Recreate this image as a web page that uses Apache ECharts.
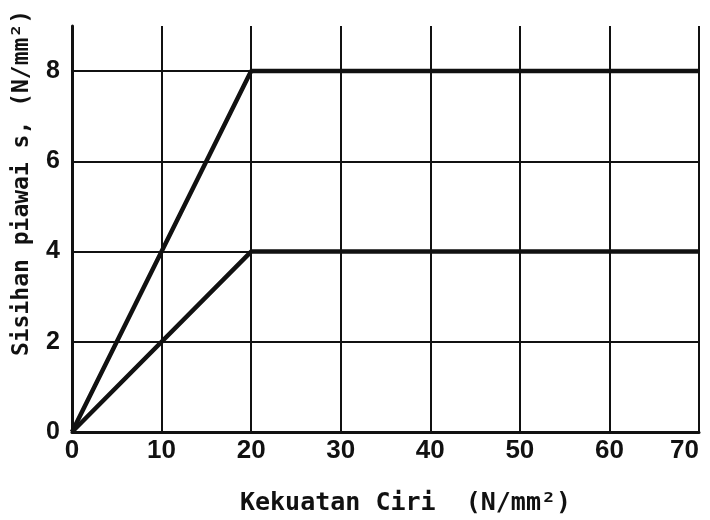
<!DOCTYPE html>
<html lang="ms">
<head>
    <meta charset="UTF-8">
    <title>Sisihan piawai</title>
    <script src="https://cdn.jsdelivr.net/npm/echarts@6/dist/echarts.min.js"></script>
</head>
<body style="margin:0;background:#fff">
<div id="main" style="width:710px;height:520px;"></div>
<script type="text/javascript">
    // data
    var upperLine = [[0, 0], [20, 8], [70, 8]];
    var lowerLine = [[0, 0], [20, 4], [70, 4]];
    var yGridLevels = [2, 4, 6, 8];
    var xTitle = 'Kekuatan Ciri  (N/mm\u00b2)';
    var yTitle = 'Sisihan piawai s, (N/mm\u00b2)';

    var myChart = echarts.init(document.getElementById('main'));
    var ink = '#111';
    var option = {
        animation: false,
        grid: {left: 72, right: 11, top: 26, bottom: 88, outerBoundsMode: 'none'},
        xAxis: {
            type: 'value',
            min: 0, max: 70, interval: 10,
            name: xTitle,
            nameLocation: 'middle',
            nameGap: 59,
            nameTextStyle: {
                color: ink, fontSize: 25, fontWeight: 'bold', fontFamily: 'DejaVu Sans Mono',
                padding: [0, 0, 0, 40]
            },
            axisLine: {lineStyle: {color: ink, width: 3}},
            axisTick: {show: false},
            axisLabel: {
                color: ink, fontSize: 26, fontWeight: 'bold', fontFamily: 'Liberation Sans', margin: 6,
                alignMaxLabel: 'right'
            },
            splitLine: {lineStyle: {color: ink, width: 2, type: 'solid'}}
        },
        yAxis: {
            type: 'value',
            min: 0, max: 9, interval: 1,
            name: yTitle,
            nameLocation: 'middle',
            nameGap: 38,
            nameTextStyle: {
                color: ink, fontSize: 23, fontWeight: 'bold', fontFamily: 'DejaVu Sans Mono',
                padding: [0, 0, 0, 92]
            },
            axisLine: {show: true, lineStyle: {color: ink, width: 3}},
            axisTick: {show: false},
            axisLabel: {
                color: ink, fontSize: 25, fontWeight: 'bold', fontFamily: 'Liberation Sans', margin: 12,
                formatter: function (v) { return yGridLevels.indexOf(v) >= 0 || v === 0 ? String(v) : ''; }
            },
            splitLine: {show: false}
        },
        series: [
            {
                type: 'line',
                data: upperLine,
                symbol: 'none',
                lineStyle: {color: ink, width: 4.5},
                markLine: {
                    silent: true,
                    symbol: 'none',
                    label: {show: false},
                    lineStyle: {color: ink, width: 2, type: 'solid'},
                    data: yGridLevels.map(function (v) { return {yAxis: v}; })
                }
            },
            {
                type: 'line',
                data: lowerLine,
                symbol: 'none',
                lineStyle: {color: ink, width: 4.5}
            }
        ]
    };
    myChart.setOption(option);
</script>
</body>
</html>
